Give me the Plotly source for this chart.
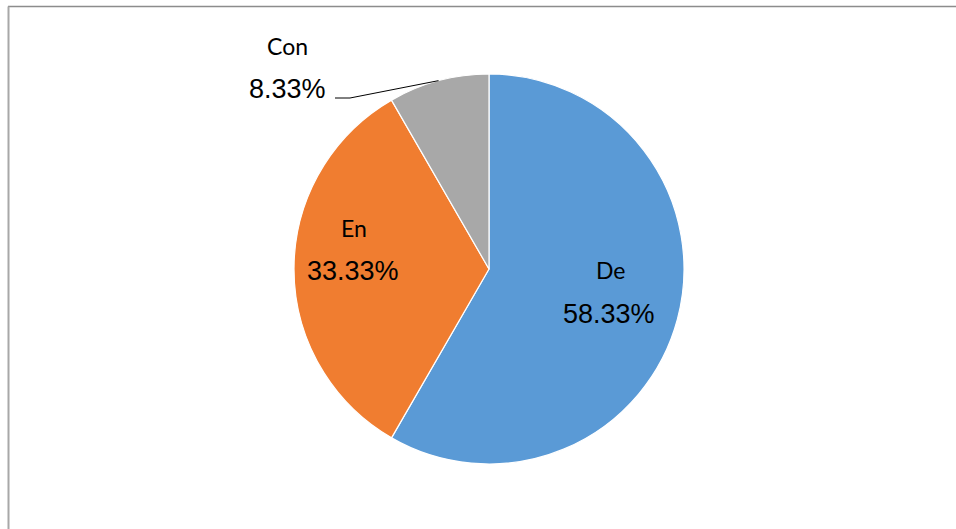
import plotly.graph_objects as go
import math

# Share of items by category
categories = ["De", "En", "Con"]
counts = [7, 4, 1]
colors = ["#5a9ad6", "#f07d30", "#a8a8a8"]

W, H = 956, 529
CX, CY, R = 489, 269, 195  # pie centre and radius in pixels


def px(x):
    return x / W


def py(y):
    return 1 - y / H


total = sum(counts)
pct = [f"{c / total * 100:.2f}%" for c in counts]

fig = go.Figure(
    go.Pie(
        labels=categories,
        values=counts,
        sort=False,
        direction="clockwise",
        rotation=0,
        marker=dict(colors=colors, line=dict(color="white", width=1.2)),
        textinfo="none",
        hoverinfo="label+percent",
        showlegend=False,
        domain=dict(x=[px(CX - R), px(CX + R)], y=[py(CY + R), py(CY - R)]),
    )
)

# Label positions (pixel centres) for name and percentage of each slice
name_pos = {"De": (610, 270), "En": (354, 228), "Con": (287, 46)}
pct_pos = {"De": (609, 314), "En": (353, 271), "Con": (287, 89)}

annotations = []
for cat, p in zip(categories, pct):
    nx, ny = name_pos[cat]
    qx, qy = pct_pos[cat]
    annotations.append(dict(
        x=px(nx), y=py(ny), xref="paper", yref="paper", text=cat,
        showarrow=False, xanchor="center", yanchor="middle",
        font=dict(family="Lato, Open Sans, sans-serif", size=23, color="#000"),
    ))
    annotations.append(dict(
        x=px(qx), y=py(qy), xref="paper", yref="paper", text=p,
        showarrow=False, xanchor="center", yanchor="middle",
        font=dict(family="Liberation Sans, Arial, sans-serif", size=27, color="#000"),
    ))

# Leader line from the small slice's rim midpoint to its label
start = sum(counts[:2]) / total
mid = (start + counts[2] / total / 2) * 2 * math.pi
rim_x = CX + R * math.sin(mid)
rim_y = CY - R * math.cos(mid)
leader = f"M {px(335)} {py(98)} L {px(350)} {py(98)} L {px(rim_x)} {py(rim_y)}"

shapes = [
    dict(type="path", xref="paper", yref="paper", path=leader,
         line=dict(color="#000", width=1)),
    # chart frame (top and left edges visible)
    dict(type="line", xref="paper", yref="paper", x0=px(8), x1=1.01, y0=py(6.5), y1=py(6.5),
         line=dict(color="#8c8c8c", width=1.5)),
    dict(type="line", xref="paper", yref="paper", x0=px(8.5), x1=px(8.5), y0=py(6.5), y1=-0.01,
         line=dict(color="#a8a8a8", width=2)),
]

fig.update_layout(
    width=W, height=H,
    margin=dict(l=0, r=0, t=0, b=0),
    paper_bgcolor="white",
    plot_bgcolor="white",
    annotations=annotations,
    shapes=shapes,
)

fig.write_html("out.html")
